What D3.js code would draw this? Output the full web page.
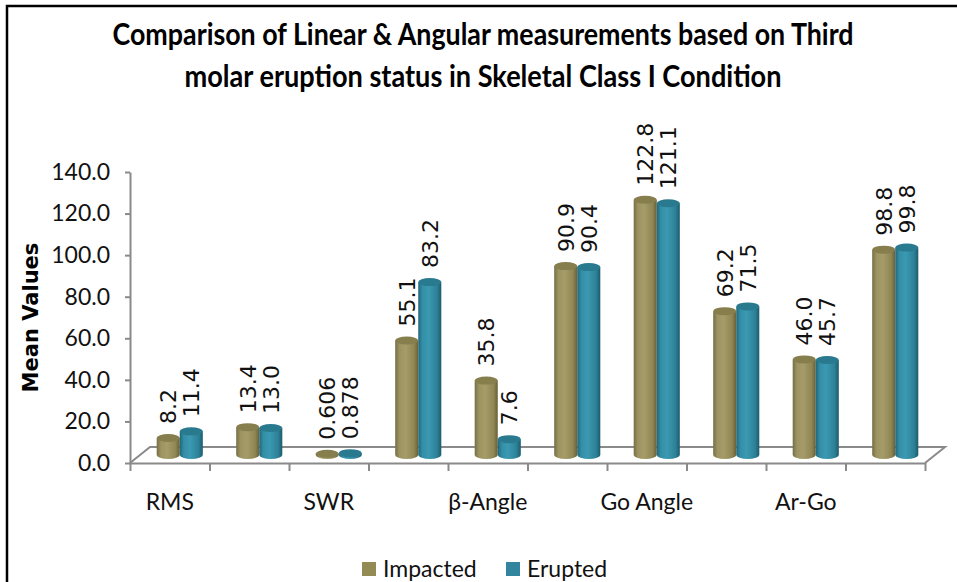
<!DOCTYPE html>
<html>
<head>
<meta charset="utf-8">
<script src="https://cdn.jsdelivr.net/npm/d3@7"></script>
<style>
  body { margin: 0; background: #fff; }
  .tick text { font-family: Lato, sans-serif; font-size: 23px; fill: #111; }
</style>
</head>
<body>
<div id="plot"></div>
<script>
// chart values
var seriesNames = ["Impacted", "Erupted"];
var categoryLabels = ["RMS", "", "SWR", "", "β-Angle", "", "Go Angle", "", "Ar-Go", ""];
var impacted = [8.2, 13.4, 0.606, 55.1, 35.8, 90.9, 122.8, 69.2, 46.0, 98.8];
var erupted = [11.4, 13.0, 0.878, 83.2, 7.6, 90.4, 121.1, 71.5, 45.7, 99.8];
var yTicks = [0, 20, 40, 60, 80, 100, 120, 140];
var titleLines = [
  "Comparison of Linear & Angular measurements based on Third",
  "molar eruption status in Skeletal Class I Condition"
];

var width = 957;
var height = 582;
var plotLeft = 130, plotRight = 925, plotTop = 172, plotBottom = 463;
var depthX = 20, depthY = -16;   // 3d floor depth
var ry = 4;

var colors = {
  Impacted: { stops: ["#766d43", "#9c9362", "#a59c69", "#8f8654", "#675f37"], top: "#877e4e", legend: "#948a54" },
  Erupted: { stops: ["#216678", "#338fa7", "#3b99b1", "#2c8197", "#1d5a6b"], top: "#2a7a8f", legend: "#31859c" }
};

var svg = d3.select("#plot").append("svg")
  .attr("width", width)
  .attr("height", height);

svg.append("rect").attr("width", width).attr("height", height).attr("fill", "#fff");

// outer frame (right and bottom edges are cropped)
svg.append("path")
  .attr("d", "M7," + (height + 10) + " V6 H" + (width + 10))
  .attr("fill", "none")
  .attr("stroke", "#000")
  .attr("stroke-width", 2.5);

var defs = svg.append("defs");
seriesNames.forEach(function (s) {
  var g = defs.append("linearGradient")
    .attr("id", "grad-" + s)
    .attr("x1", 0).attr("x2", 1).attr("y1", 0).attr("y2", 0);
  var offs = [0, 0.18, 0.45, 0.82, 1];
  colors[s].stops.forEach(function (c, i) {
    g.append("stop").attr("offset", offs[i]).attr("stop-color", c);
  });
});

// title
svg.append("g").selectAll("text")
  .data(titleLines)
  .enter()
  .append("text")
  .attr("x", 483)
  .attr("y", function (d, i) { return 45 + i * 42; })
  .attr("text-anchor", "middle")
  .attr("textLength", function (d, i) { return i === 0 ? 741 : 597; })
  .attr("lengthAdjust", "spacingAndGlyphs")
  .style("font-family", "Lato, sans-serif")
  .style("font-weight", "bold")
  .style("font-size", "30px")
  .attr("fill", "#000")
  .text(function (d) { return d; });

var x = d3.scaleBand()
  .domain(d3.range(categoryLabels.length))
  .range([plotLeft, plotRight]);

var pairW = x.bandwidth() * 0.58;
var xs = d3.scaleBand()
  .domain(seriesNames)
  .range([(x.bandwidth() - pairW) / 2, (x.bandwidth() + pairW) / 2]);

var y = d3.scaleLinear()
  .domain([0, 140])
  .range([plotBottom, plotTop]);

var axisColor = "#8a8a8a";

// floor
var floor = svg.append("g").attr("fill", "none").attr("stroke", axisColor).attr("stroke-width", 2);
floor.append("path")
  .attr("d", "M" + plotLeft + "," + plotBottom + " L" + (plotLeft + depthX) + "," + (plotBottom + depthY) +
    " H" + (plotRight + depthX) + " L" + plotRight + "," + plotBottom);

// y axis
var yAxis = svg.append("g")
  .attr("transform", "translate(" + plotLeft + ",0)")
  .call(d3.axisLeft(y).tickValues(yTicks).tickFormat(d3.format(".1f")).tickSize(5).tickPadding(15).tickSizeOuter(0));
yAxis.selectAll("path, line").attr("stroke", axisColor).attr("stroke-width", 2);

// x axis: boundary ticks
var xEdges = d3.scaleLinear().domain([0, categoryLabels.length]).range([plotLeft, plotRight]);
var xTickAxis = svg.append("g")
  .attr("transform", "translate(0," + plotBottom + ")")
  .call(d3.axisBottom(xEdges).tickValues(d3.range(categoryLabels.length + 1)).tickFormat("").tickSize(8).tickSizeOuter(0));
xTickAxis.selectAll("path, line").attr("stroke", axisColor).attr("stroke-width", 2);

// x axis: category labels
var xLabelAxis = svg.append("g")
  .attr("transform", "translate(0," + plotBottom + ")")
  .call(d3.axisBottom(x).tickFormat(function (i) { return categoryLabels[i]; }).tickSize(0).tickPadding(31));
xLabelAxis.select(".domain").remove();

// y axis title
svg.append("text")
  .attr("transform", "translate(38," + ((plotTop + plotBottom) / 2) + ") rotate(-90)")
  .attr("text-anchor", "middle")
  .style("font-family", "'DejaVu Sans', sans-serif")
  .style("font-weight", "bold")
  .style("font-size", "21px")
  .attr("fill", "#000")
  .text("Mean Values");

// bars
var rows = d3.range(categoryLabels.length).map(function (i) {
  return [
    { series: "Impacted", i: i, value: impacted[i] },
    { series: "Erupted", i: i, value: erupted[i] }
  ];
});

var fmt = function (v) { return v < 1 ? d3.format(".3f")(v) : d3.format(".1f")(v); };

var groups = svg.append("g")
  .attr("transform", "translate(" + depthX / 2 + "," + depthY / 2 + ")")
  .selectAll("g")
  .data(rows)
  .enter()
  .append("g")
  .attr("transform", function (d, i) { return "translate(" + x(i) + ",0)"; });

var bar = groups.selectAll("g.bar")
  .data(function (d) { return d; })
  .enter()
  .append("g")
  .attr("class", "bar");

bar.append("path")
  .attr("d", function (d) {
    var xl = xs(d.series), w = xs.bandwidth(), rx = w / 2;
    var yt = y(d.value), yb = y(0);
    return "M" + xl + "," + yt + " V" + yb +
      " A" + rx + "," + ry + " 0 0 0 " + (xl + w) + "," + yb +
      " V" + yt + " Z";
  })
  .attr("fill", function (d) { return "url(#grad-" + d.series + ")"; });

bar.append("ellipse")
  .attr("cx", function (d) { return xs(d.series) + xs.bandwidth() / 2; })
  .attr("cy", function (d) { return y(d.value); })
  .attr("rx", xs.bandwidth() / 2)
  .attr("ry", ry)
  .attr("fill", function (d) { return colors[d.series].top; });

bar.append("text")
  .attr("transform", function (d) {
    return "translate(" + (xs(d.series) + xs.bandwidth() / 2) + "," + (y(d.value) - ry - 10) + ") rotate(-90)";
  })
  .attr("dy", "0.36em")
  .style("font-family", "'DejaVu Sans', sans-serif")
  .style("font-size", "22px")
  .attr("fill", "#111")
  .text(function (d) { return fmt(d.value); });

// legend
var legend = svg.append("g")
  .attr("transform", "translate(362,562)")
  .selectAll("g")
  .data(seriesNames)
  .enter()
  .append("g")
  .attr("transform", function (d, i) { return "translate(" + i * 144 + ",0)"; });

legend.append("rect")
  .attr("width", 14)
  .attr("height", 14)
  .attr("fill", function (d) { return colors[d].legend; });

legend.append("text")
  .attr("x", 21)
  .attr("y", 15)
  .style("font-family", "Lato, sans-serif")
  .style("font-size", "23px")
  .attr("fill", "#111")
  .text(function (d) { return d; });
</script>
</body>
</html>
